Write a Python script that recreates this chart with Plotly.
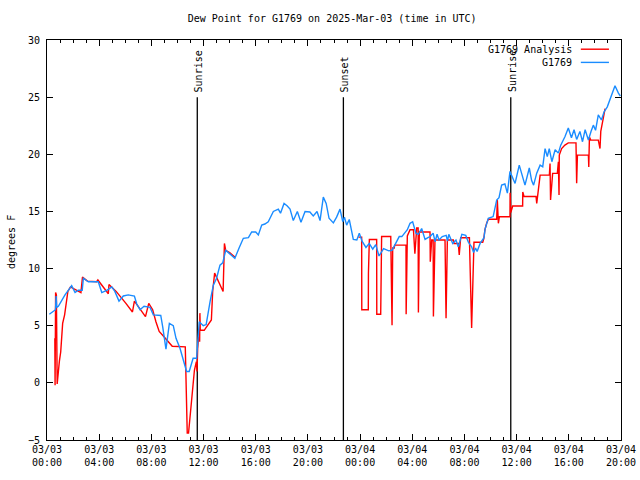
import datetime as dt
import plotly.graph_objects as go

BASE = dt.datetime(2025, 3, 3, 0, 0)

# Observed dew point (G1769): hours since 2025-03-03 00:00 UTC, degrees F
obs_hours = [0.18, 0.48, 0.65, 0.7, 0.75, 0.87, 1.1, 1.38, 1.7, 1.89, 2.15, 2.4, 2.7, 2.79, 3.17, 3.5, 3.93,
             4.2, 4.58, 4.97, 5.2, 5.52, 5.85, 6.23, 6.7, 6.88, 7.13, 7.44, 7.9, 8.15, 8.72, 8.87, 9.12, 9.38,
             9.68, 9.89, 10.2, 10.45, 10.7, 10.9, 11.2, 11.47, 11.67, 11.98, 12.2, 12.5, 12.75, 13.0, 13.26,
             13.47, 13.7, 13.95, 14.4, 14.74, 15.05, 15.44, 15.69, 16.0, 16.2, 16.46, 16.7, 16.96, 17.35,
             17.73, 17.9, 18.17, 18.4, 18.63, 18.88, 19.19, 19.47, 19.78, 20.15, 20.41, 20.7, 20.93, 21.18,
             21.4, 21.62, 21.95, 22.2, 22.46, 22.67, 22.8, 22.97, 23.17, 23.35, 23.48, 23.75, 23.94, 24.15,
             24.45, 24.7, 24.97, 25.2, 25.45, 25.8, 26.2, 26.45, 26.68, 27.0, 27.2, 27.62, 27.83, 28.03,
             28.28, 28.46, 28.72, 28.98, 29.2, 29.36, 29.6, 29.75, 29.9, 30.05, 30.3, 30.6, 30.7, 30.8,
             31.1, 31.35, 31.53, 31.8, 32.1, 32.3, 32.55, 32.7, 32.85, 32.97, 33.2, 33.5, 33.58, 33.83,
             34.2, 34.47, 34.65, 34.85, 35.1, 35.29, 35.49, 35.7, 35.88, 36.2, 36.45, 36.64, 36.97, 37.15,
             37.3, 37.54, 37.8, 38.0, 38.18, 38.35, 38.5, 38.7, 38.95, 39.2, 39.38, 39.71, 39.96, 40.2,
             40.4, 40.6, 40.85, 41.05, 41.25, 41.5, 41.7, 41.88, 42.05, 42.26, 42.5, 42.7, 42.95, 43.29,
             43.54, 43.8, 43.95]
obs_values = [6.0, 6.3, 6.4, 7.6, 6.6, 6.7, 7.2, 7.7, 8.2, 8.5, 7.9, 8.1, 8.1, 9.15, 8.85, 8.85, 8.85,
              7.9, 8.1, 8.4, 8.0, 7.15, 7.6, 7.7, 7.6, 6.9, 6.4, 6.7, 6.6, 5.95, 5.9, 4.9, 2.95, 5.2,
              5.0, 3.9, 3.0, 2.0, 1.0, 1.0, 2.15, 2.15, 5.35, 5.0, 5.1, 7.1, 8.55, 9.15, 10.3,
              10.5, 11.6, 11.35, 10.9, 11.85, 12.65, 12.7, 13.2, 13.2, 12.95, 13.8, 13.9, 14.1, 15.0,
              15.2, 14.85, 15.7, 15.5, 15.2, 14.2, 15.0, 14.05, 15.0, 14.95, 14.6, 15.0, 14.2, 16.25,
              15.7, 14.4, 14.0, 14.5, 15.2, 14.1, 14.5, 13.8, 14.3, 13.2, 12.55, 12.5, 13.1, 12.4,
              11.85, 12.2, 11.7, 12.1, 11.1, 11.75, 11.55, 11.6, 12.07, 12.8, 12.8, 13.4, 13.96, 14.1,
              13.1, 13.0, 13.5, 12.55, 12.7, 12.8, 13.1, 12.35, 13.0, 12.5, 12.8, 12.9, 12.4, 13.0,
              12.2, 12.5, 11.9, 13.0, 12.9, 12.3, 11.9, 11.4, 11.8, 11.5, 12.2, 12.7, 13.45, 14.4,
              14.55, 16.0, 16.2, 17.3, 17.4, 16.6, 18.5, 18.0, 17.45, 19.05, 18.0, 17.3, 18.8, 17.7,
              17.3, 18.35, 19.05, 18.9, 20.5, 19.8, 20.5, 19.35, 20.4, 20.1, 20.8, 21.55, 22.3, 21.45,
              22.15, 21.3, 22.0, 21.1, 22.15, 21.25, 22.0, 22.55, 22.1, 23.45, 23.0, 23.7, 24.15, 25.2,
              26.0, 25.35, 25.1]

# Analysis dew point (G1769 Analysis); None = gap
ana_hours = [0.6, 0.62, 0.66, 0.72, 0.78, 0.85, 0.95, 1.05, 1.2, 1.35, 1.45, 1.6, 1.8, 2.1, 2.6, 2.72,
             3.1, 3.8, 3.9, 4.5, 4.7, 4.75, 5.3, 6.05, 6.55, 6.7, 7.05, 7.55, 7.8, 8.1, 8.35, 8.6, 8.95,
             9.6, 10.6, 10.65, 10.75, 10.85, 11.0, 11.1, 11.3, 11.45, 11.5, 11.55, 11.62, 11.7, 11.72,
             11.75, 12.05, 12.6, 12.7, 12.85, 13.5, 13.55, 13.6, 13.7, 14.0, 14.4, None,
             23.87, 24.12, 24.13, 24.63, 24.64, 24.71, 25.27, 25.28, 25.58, 25.62, 25.65, 26.35, 26.37,
             26.4, 26.45, 26.5, 26.62, 26.65, 27.52, 27.53, 27.62, 27.83, 28.09, 28.2, 28.34, 28.45,
             28.47, 28.54, 29.36, 29.38, 29.49, 29.6, 29.62, 29.74, 30.51, 30.59, 30.69, 31.15, 31.2,
             31.53, 31.6, 31.71, 32.38, 32.42, 32.55, 32.73, 33.4, 33.48, 33.57, 33.7, 33.83, 34.47,
             34.52, 34.6, 34.68, 35.49, 35.5, 35.55, 35.7, 36.46, 36.47, 36.57, 37.49, 37.54, 37.67,
             37.8, 38.51, 38.56, 38.6, 38.76, 39.12, 39.2, 39.25, 39.27, 39.45, 39.7, 39.96, 40.55,
             40.6, 40.66, 41.5, 41.53, 41.58, 41.68, 42.26, 42.39, 42.45, 42.52, 42.65, 42.78]
ana_values = [3.9, -0.2, 7.9, 7.7, -0.1, 1.0, 1.9, 2.7, 5.2, 5.95, 6.7, 8.0, 8.4, 8.2, 7.9, 9.25,
              8.9, 8.85, 9.0, 8.1, 7.8, 8.6, 8.0, 6.95, 6.2, 7.15, 6.55, 5.8, 6.95, 6.4, 5.35, 4.5, 4.05,
              3.2, 3.15, -0.6, -4.4, -4.4, -2.65, -0.9, 1.1, 1.85, 1.0, 3.0, 4.05, 3.6, 6.1,
              4.6, 4.6, 5.5, 8.0, 9.6, 8.0, 10.1, 12.2, 11.6, 11.4, 11.0, None,
              12.75, 12.75, 6.4, 6.4, 9.6, 12.55, 12.55, 6.0, 6.0, 9.5, 12.8, 12.8, 10.8,
              7.0, 5.05, 11.8, 11.8, 12.05, 12.05, 6.0, 12.85, 13.4, 13.4, 11.3, 13.55, 13.55,
              6.15, 13.2, 13.2, 10.6, 12.5, 12.5, 5.8, 12.5, 12.5, 5.65, 12.5, 12.5, 12.2,
              12.2, 11.2, 12.7, 12.7, 10.8, 4.8, 12.3, 12.3, 12.6, 13.4, 13.96, 14.31, 14.31,
              16.0, 13.96, 14.54, 14.54, 16.64, 14.9, 15.48, 15.48, 16.7, 16.3, 16.3, 15.71, 17.17,
              18.18, 18.18, 19.2, 16.0, 18.33, 18.33, 19.35, 16.43, 19.93, 20.5, 20.8, 21.0, 21.0,
              17.46, 19.93, 19.93, 18.9, 21.5, 21.24, 21.24, 20.5, 22.0, 22.4, 23.3, 24.0]

# Sun events (hours since start)
sun_hours = [11.52, 22.72, 35.55]
sun_labels = ["Sunrise", "Sunset", "Sunrise"]

# X tick labels every 4 hours
tick_hours = [0, 4, 8, 12, 16, 20, 24, 28, 32, 36, 40, 44]
tick_text = ["03/03<br>00:00", "03/03<br>04:00", "03/03<br>08:00", "03/03<br>12:00",
             "03/03<br>16:00", "03/03<br>20:00", "03/04<br>00:00", "03/04<br>04:00",
             "03/04<br>08:00", "03/04<br>12:00", "03/04<br>16:00", "03/04<br>20:00"]


def t(h):
    return None if h is None else BASE + dt.timedelta(hours=h)


FONT = "DejaVu Sans Mono"
FS = 10
RED = "#ff0000"
BLUE = "#1a8cff"

fig = go.Figure()

# sun event lines
for h in sun_hours:
    fig.add_trace(go.Scatter(x=[t(h), t(h)], y=[25, -5], mode="lines",
                             line=dict(color="black", width=1.3), showlegend=False,
                             hoverinfo="skip"))

fig.add_trace(go.Scatter(x=[t(h) for h in ana_hours], y=ana_values, mode="lines",
                         line=dict(color=RED, width=1.4), name="G1769 Analysis",
                         connectgaps=False, showlegend=False))
fig.add_trace(go.Scatter(x=[t(h) for h in obs_hours], y=obs_values, mode="lines",
                         line=dict(color=BLUE, width=1.4), name="G1769", showlegend=False))

for h, lab in zip(sun_hours, sun_labels):
    fig.add_annotation(x=t(h), y=25, xref="x", yref="y", text=lab, textangle=-90,
                       showarrow=False, yanchor="bottom", xanchor="center", yshift=3, xshift=1,
                       font=dict(family=FONT, size=FS, color="black"))

# gnuplot-style legend (text left of line sample)
legend_items = [("G1769 Analysis", RED, 0.977), ("G1769", BLUE, 0.944)]
for name, col, yy in legend_items:
    fig.add_annotation(x=0.918, y=yy, xref="paper", yref="paper", text=name, showarrow=False,
                       xanchor="right", yanchor="middle", font=dict(family=FONT, size=FS, color="black"))
    fig.add_shape(type="line", xref="paper", yref="paper", x0=0.930, x1=0.979, y0=yy, y1=yy,
                  line=dict(color=col, width=1.4))

# y-axis title placed like gnuplot's
fig.add_annotation(x=-0.0627, y=0.495, xref="paper", yref="paper", text="degrees F", textangle=-90,
                   showarrow=False, xanchor="center", yanchor="middle",
                   font=dict(family=FONT, size=FS, color="black"))

fig.update_layout(
    width=640, height=480,
    margin=dict(l=47, r=19, t=40, b=40, autoexpand=False),
    paper_bgcolor="white", plot_bgcolor="white",
    font=dict(family=FONT, size=FS, color="black"),
    title=dict(text="Dew Point for G1769 on 2025-Mar-03 (time in UTC)", x=0.519, xanchor="center",
               y=0.962, yanchor="middle", font=dict(family=FONT, size=FS, color="black")),
    showlegend=False,
)
fig.update_xaxes(
    range=[t(0), t(44)], tickvals=[t(h) for h in tick_hours], ticktext=tick_text,
    ticks="inside", ticklen=6, tickcolor="black", showline=True, linecolor="black", linewidth=1,
    mirror="ticks", showgrid=False, zeroline=False, tickangle=0, automargin=False,
    minor=dict(dtick=3600000, ticks="inside", ticklen=3, tickcolor="black", showgrid=False),
    tickfont=dict(family=FONT, size=FS),
)
fig.update_yaxes(
    range=[-5, 30], dtick=5, tick0=0, ticks="inside", ticklen=6, tickcolor="black",
    showline=True, linecolor="black", linewidth=1, mirror="ticks", showgrid=False,
    zeroline=False, automargin=False, ticklabelstandoff=4,
    tickfont=dict(family=FONT, size=FS),
)

fig.write_html("out.html", config={"displayModeBar": False},
               post_script="document.body.style.margin='0px';")
